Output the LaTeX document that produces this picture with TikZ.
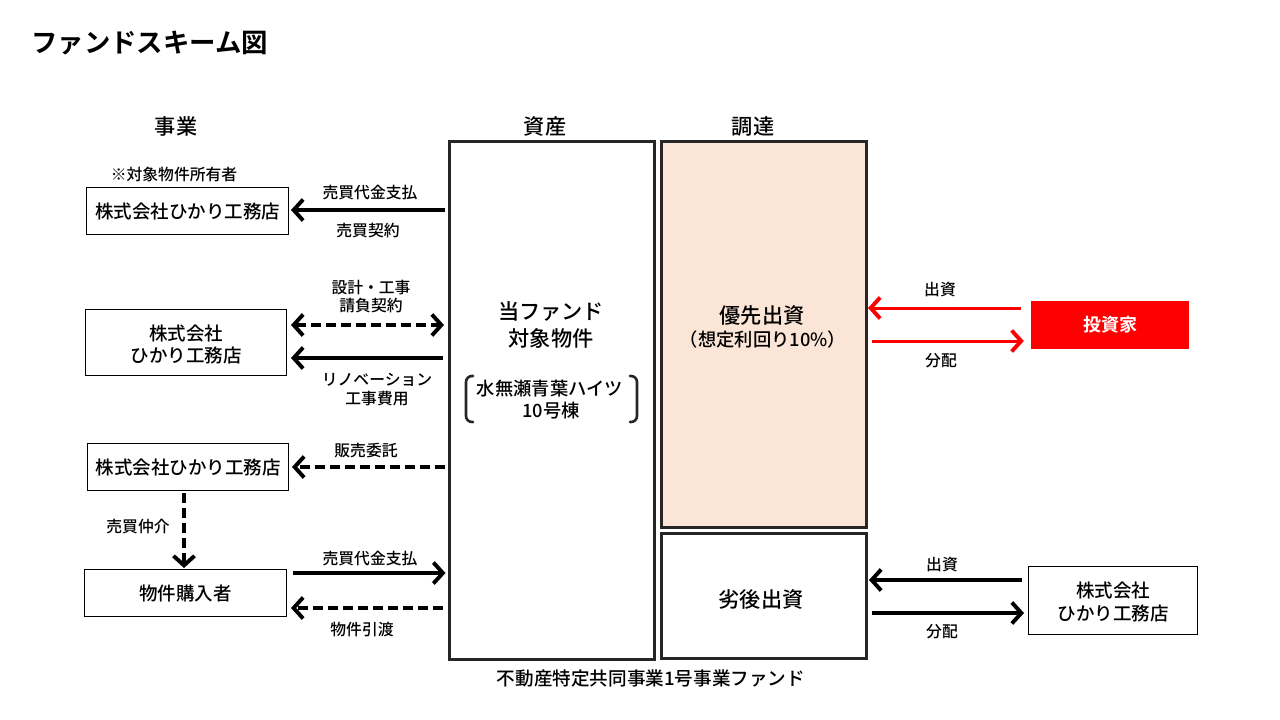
\documentclass[tikz,border=0pt]{standalone}
\usepackage{fontspec}
\setmainfont{Noto Sans CJK JP Medium}
\newfontfamily\titlefont{Noto Sans CJK JP Bold}
\newfontfamily\whitefont{Noto Sans CJK JP Bold}
\usetikzlibrary{arrows.meta,calc}
\definecolor{framegray}{HTML}{262626}
\definecolor{seniorfill}{HTML}{FBE5D6}
\definecolor{redfill}{HTML}{FF0000}
\newcommand{\fs}[1]{\fontsize{#1}{#1}\selectfont}
\tikzset{
  x=1pt,y=-1pt,
  thinbox/.style={draw=black,line width=1pt,fill=white,inner sep=0pt,text=black,align=center},
  bigbox/.style={draw=framegray,line width=3pt,inner sep=0pt},
  lab/.style={inner sep=0pt,align=center,text=black,yshift=-0.8pt},
  smalllab/.style={lab,font=\fs{15.8}},
  biglab/.style={lab,font=\fs{21.2}},
  conn/.style={line width=3.6pt,draw=black,
    arrows={-{Straight Barb[length=9.5pt,width=21pt,line width=3.9pt]}}},
  connboth/.style={line width=3.6pt,draw=black,
    arrows={{Straight Barb[length=9.5pt,width=21pt,line width=3.9pt]}-{Straight Barb[length=9.5pt,width=21pt,line width=3.9pt]}}},
  dashline/.style={dash pattern=on 10pt off 5pt},
  redconn/.style={conn,draw=redfill,line width=3pt},
}
\begin{document}
\begin{tikzpicture}
\useasboundingbox (0,0) rectangle (1280,720);
% boxes
\node[thinbox,minimum width=202pt,minimum height=47pt,font=\fs{18.5}] (b1) at (187.5,211) {株式会社ひかり工務店};
\node[thinbox,minimum width=201pt,minimum height=66pt,font=\fs{18.5}] (b2) at (186,342.5) {\rule{0pt}{20pt}株式会社\\[4pt]ひかり工務店};
\node[thinbox,minimum width=201pt,minimum height=47pt,font=\fs{18.5}] (b3) at (188,467) {株式会社ひかり工務店};
\node[thinbox,minimum width=202pt,minimum height=47pt,font=\fs{18.5}] (b4) at (185.5,593) {物件購入者};
\node[bigbox,fill=white,minimum width=205pt,minimum height=518pt] (asset) at (552,400) {};
\node[bigbox,fill=seniorfill,minimum width=205pt,minimum height=386pt] (senior) at (764,334) {};
\node[bigbox,fill=white,minimum width=205pt,minimum height=125pt] (sub) at (764,595.5) {};
\node[draw=none,fill=redfill,minimum width=158pt,minimum height=48pt,inner sep=0pt,text=white,font=\whitefont\fs{18}] (inv) at (1110,325) {投資家};
\node[thinbox,minimum width=169pt,minimum height=68pt,font=\fs{18.5}] (spon) at (1113,600) {\rule{0pt}{20pt}株式会社\\[4pt]ひかり工務店};
% connectors
\draw[conn] ([xshift=-3pt,yshift=1pt]asset.west |- b1.east) -- ([xshift=2pt,yshift=1pt]b1.east);
\draw[connboth,dashline] ([xshift=4pt,yshift=17.5pt]b2.east) -- ([xshift=-4pt,yshift=17.5pt]asset.west |- b2.east);
\draw[conn] ([xshift=-5pt,yshift=-15.5pt]asset.west |- b2.east) -- ([xshift=4pt,yshift=-15.5pt]b2.east);
\draw[conn,dashline] ([xshift=-3pt]asset.west |- b3.east) -- ([xshift=3pt]b3.east);
\draw[conn,dashline] ([xshift=-4pt,yshift=-2pt]b3.south) -- ([xshift=-1.5pt,yshift=1pt]b4.north);
\draw[conn] ([xshift=6pt,yshift=20pt]b4.east) -- ([xshift=-2.5pt,yshift=20pt]asset.west |- b4.east);
\draw[conn,dashline] ([xshift=-5pt,yshift=-15pt]asset.west |- b4.east) -- ([xshift=4pt,yshift=-15pt]b4.east);
\draw[redconn] ([xshift=-10pt,yshift=17pt]inv.west) -- ([xshift=0pt,yshift=17pt]senior.east |- inv.west);
\draw[redconn] ([xshift=3.5pt,yshift=-16pt]senior.east |- inv.west) -- ([xshift=-7pt,yshift=-16pt]inv.west);
\draw[conn] ([xshift=-6pt,yshift=20pt]spon.west) -- ([xshift=1pt,yshift=20pt]sub.east |- spon.west);
\draw[conn] ([xshift=3.5pt,yshift=-13pt]sub.east |- spon.west) -- ([xshift=-4pt,yshift=-13pt]spon.west);
% brackets
\draw[line width=2.6pt,draw=framegray,rounded corners=6pt,line cap=round] (473,376) -- (466,376) -- (466,422) -- (473,422);
\draw[line width=2.6pt,draw=framegray,rounded corners=6pt,line cap=round] (630,376) -- (637,376) -- (637,422) -- (630,422);
% labels
\node[lab,anchor=west,font=\titlefont\fs{26.4}] (title) at (31,42) {ファンドスキーム図};
\node[biglab] (h1) at (176,126) {事業};
\node[biglab] (h2) at (545,126) {資産};
\node[biglab] (h3) at (753,126) {調達};
\node[smalllab] (l0) at (174,174) {※対象物件所有者};
\node[smalllab] (l1) at (370,192) {売買代金支払};
\node[smalllab] (l2) at (368,230) {売買契約};
\node[smalllab] (l3) at (371,287) {設計・工事};
\node[smalllab] (l4) at (371,305) {請負契約};
\node[smalllab] (l5) at (377,379) {リノベーション};
\node[smalllab] (l6) at (377,398) {工事費用};
\node[smalllab] (l7) at (366,450) {販売委託};
\node[smalllab] (l8) at (138,526) {売買仲介};
\node[smalllab] (l9) at (370,558) {売買代金支払};
\node[smalllab] (l10) at (362,629) {物件引渡};
\node[biglab] (c1) at (551,311) {当ファンド};
\node[biglab] (c2) at (551,338) {対象物件};
\node[lab,font=\fs{18.3}] (c3) at (550,388) {水無瀬青葉ハイツ};
\node[lab,font=\fs{18.3}] (c4) at (551,410) {10号棟};
\node[biglab] (s1) at (762,315) {優先出資};
\node[lab,font=\fs{18.3}] (s2) at (763,339) {（想定利回り10\%）};
\node[biglab] (s3) at (761,599) {劣後出資};
\node[smalllab] (r1) at (940,289) {出資};
\node[smalllab] (r2) at (941,360) {分配};
\node[smalllab] (r3) at (942,564) {出資};
\node[smalllab] (r4) at (942,631) {分配};
\node[lab,font=\fs{18.6}] (foot) at (651,678) {不動産特定共同事業1号事業ファンド};
\end{tikzpicture}
\end{document}
